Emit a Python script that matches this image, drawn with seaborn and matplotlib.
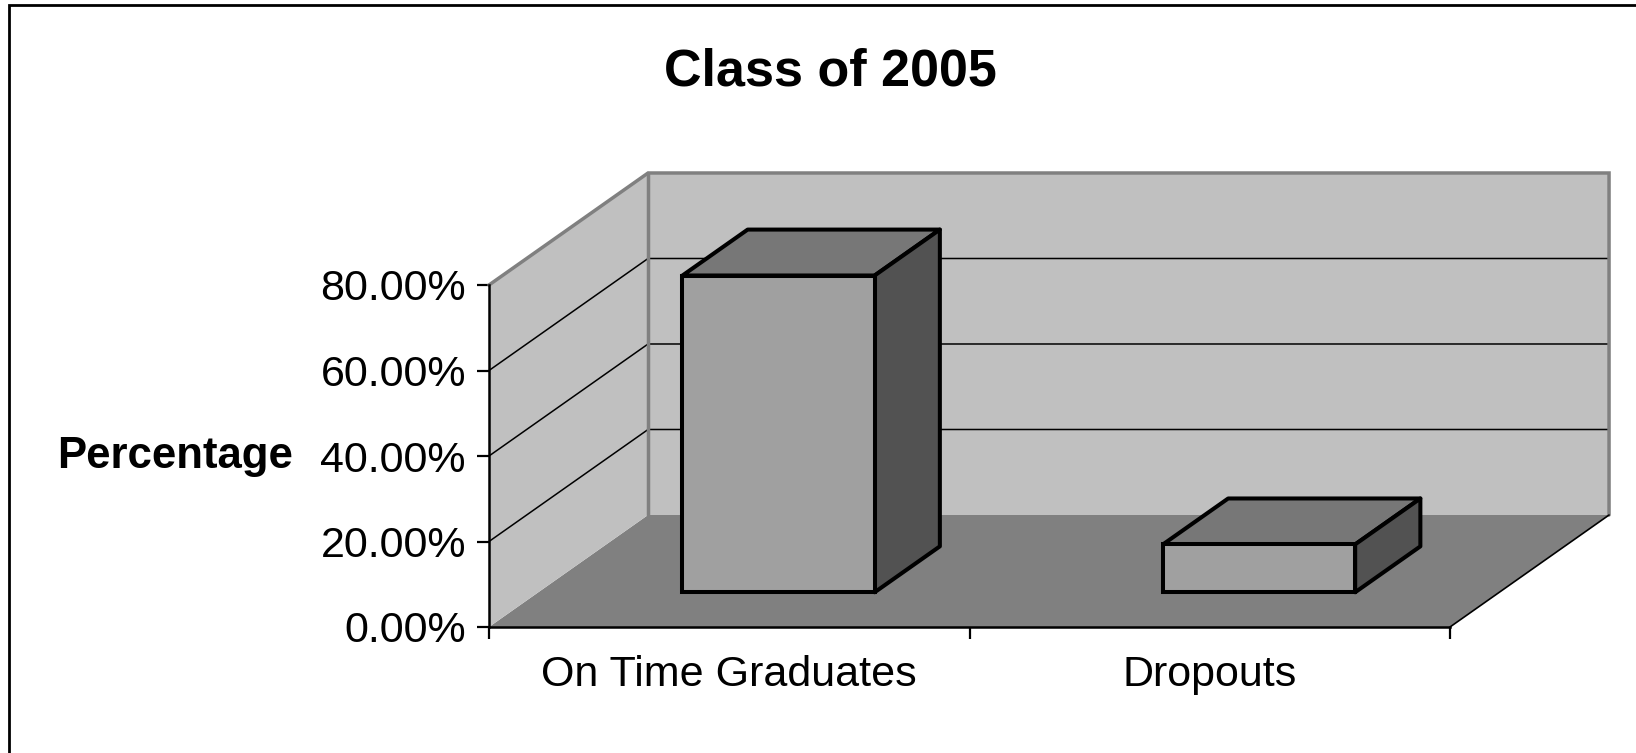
import matplotlib
matplotlib.use("Agg")
import matplotlib.pyplot as plt
from matplotlib.patches import Polygon, Rectangle
from matplotlib.transforms import Affine2D
from matplotlib.ticker import FuncFormatter
import seaborn as sns

# data
categories = ["On Time Graduates", "Dropouts"]
percentages = [74.1, 11.2]
y_ticks = [0, 20, 40, 60, 80]

# fake 3d box: depth vector in data units, bar front/back depth fractions
DX, DY = 0.331, 26.2
BAR_FRONT, BAR_BACK = 0.31, 0.72

WALL = "#c0c0c0"
FLOOR = "#808080"
EDGE = "#808080"
FRONT = "#a0a0a0"
TOP = "#777777"
SIDE = "#525252"

sns.set_style("white")
plt.rcParams["font.family"] = ["Liberation Sans", "DejaVu Sans"]
plt.rcParams["text.color"] = "black"

W, H = 1636, 753
fig = plt.figure(figsize=(W / 100, H / 100), dpi=100)
ax = fig.add_axes([489 / W, 1 - 627 / H, 961 / W, 342 / H])
ax.patch.set_visible(False)

x0, x1 = -0.5, len(categories) - 0.5
top = y_ticks[-1]


def poly(pts, **kw):
    ax.add_patch(Polygon(pts, closed=True, clip_on=False, **kw))


# floor and walls
poly([(x0, 0), (x1, 0), (x1 + DX, DY), (x0 + DX, DY)],
     facecolor=FLOOR, edgecolor="none", zorder=0)
poly([(x0, 0), (x0, top), (x0 + DX, top + DY), (x0 + DX, DY)],
     facecolor=WALL, edgecolor="none", zorder=0)
poly([(x0 + DX, DY), (x1 + DX, DY), (x1 + DX, top + DY), (x0 + DX, top + DY)],
     facecolor=WALL, edgecolor="none", zorder=0)

# gridlines on side and back wall
for v in y_ticks[1:-1]:
    ax.plot([x0, x0 + DX, x1 + DX], [v, v + DY, v + DY],
            color="black", lw=1.1, zorder=0.5, clip_on=False)

# wall edges
ax.plot([x0, x0 + DX, x1 + DX, x1 + DX], [top, top + DY, top + DY, DY],
        color=EDGE, lw=2.5, zorder=0.6, clip_on=False, solid_joinstyle="miter")
ax.plot([x0 + DX, x0 + DX], [DY, top + DY], color=EDGE, lw=2.5,
        zorder=0.6, clip_on=False)
ax.plot([x1, x1 + DX], [0, DY], color="black", lw=1.2, zorder=0.6, clip_on=False)

# bars (front faces), pushed back into the box
sns.barplot(x=categories, y=percentages, width=0.4, color=FRONT, saturation=1,
            edgecolor="black", linewidth=2.9, ax=ax, zorder=2)

fx, fy = BAR_FRONT * DX, BAR_FRONT * DY
bx, by = BAR_BACK * DX, BAR_BACK * DY
shift = Affine2D().translate(fx, fy)
for bar in ax.containers[0]:
    bar.set_transform(shift + ax.transData)
    bar.set_clip_on(False)
    bar.set_joinstyle("miter")
    x, w, h = bar.get_x(), bar.get_width(), bar.get_height()
    poly([(x + fx, h + fy), (x + w + fx, h + fy), (x + w + bx, h + by), (x + bx, h + by)],
         facecolor=TOP, edgecolor="black", lw=2.9, zorder=1.9, joinstyle="round")
    poly([(x + w + fx, fy), (x + w + bx, by), (x + w + bx, h + by), (x + w + fx, h + fy)],
         facecolor=SIDE, edgecolor="black", lw=2.9, zorder=1.9, joinstyle="round")

ax.set_xlim(x0, x1)
ax.set_ylim(0, top)
ax.set_xlabel("")
ax.set_ylabel("")
for s in ["top", "right"]:
    ax.spines[s].set_visible(False)
for s in ["left", "bottom"]:
    ax.spines[s].set_color("black")
    ax.spines[s].set_linewidth(1.8)

ax.set_yticks(y_ticks)
ax.yaxis.set_major_formatter(FuncFormatter(lambda v, _: f"{v:.2f}%"))
ax.tick_params(axis="y", left=True, direction="out", length=8.6, width=1.6,
               pad=8.0, labelsize=31, colors="black")
ax.set_xticks(range(len(categories)))
ax.set_xticklabels(categories)
ax.set_xticks([i - 0.5 for i in range(len(categories) + 1)], minor=True)
ax.tick_params(axis="x", which="major", bottom=True, length=0, pad=20,
               labelsize=31, colors="black")
ax.tick_params(axis="x", which="minor", bottom=True, direction="out",
               length=8.6, width=1.6, color="black")

fig.text(830 / W, 1 - 86 / H, "Class of 2005", ha="center", va="baseline",
         fontsize=37.5, fontweight="bold", color="black")
fig.text(293 / W, 1 - 468 / H, "Percentage", ha="right", va="baseline",
         fontsize=31.5, fontweight="bold", color="black")

# outer chart border (only left and top are inside the picture)
fig.add_artist(Rectangle((8.5 / W, -0.1), 1.2, 1.1 - 5.5 / H, fill=False,
                         edgecolor="black", lw=2, transform=fig.transFigure))

fig.savefig("out.png", dpi=100)
